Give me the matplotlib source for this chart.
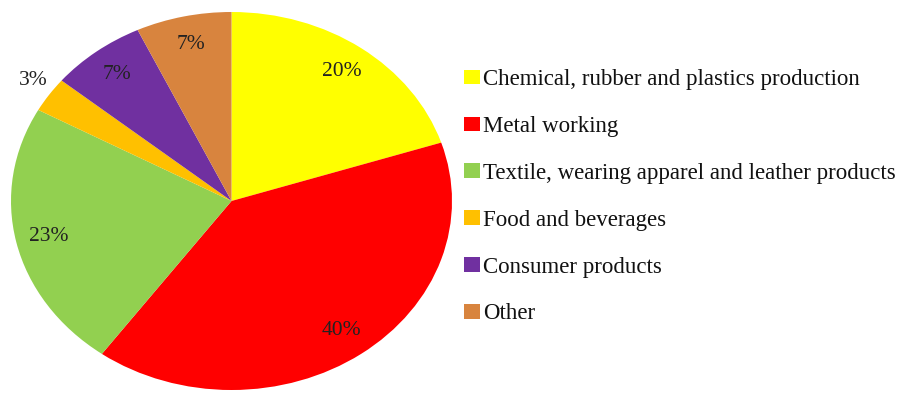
"""Pie chart: distribution by industry sector (recreated)."""

import matplotlib

matplotlib.use("Agg")
import matplotlib.pyplot as plt
from matplotlib.patches import Patch

sectors = [
    "Chemical, rubber and plastics production",
    "Metal working",
    "Textile, wearing apparel and leather products",
    "Food and beverages",
    "Consumer products",
    "Other",
]
shares = [20, 40, 23, 3, 7, 7]
colors = ["#FFFF00", "#FF0000", "#92D050", "#FFC000", "#7030A0", "#D8843E"]

plt.rcParams["font.family"] = ["Liberation Serif", "DejaVu Serif"]

W, H = 924, 394
fig = plt.figure(figsize=(W / 100, H / 100), dpi=100)
# pie is stretched to an ellipse, as in the original
ax = fig.add_axes([11 / W, 4 / H, 441 / W, 378 / H])

wedges, texts, autotexts = ax.pie(
    shares, colors=colors, startangle=90, counterclock=False,
    autopct="%d%%", pctdistance=0.85, radius=1.0,
    textprops={"fontsize": 15.5, "color": "#222222"},
)
# small slice label sits outside the pie
small = shares.index(3)
x, y = autotexts[small].get_position()
autotexts[small].set_position((x * 1.28, y * 1.33))

ax.set_aspect("auto")
ax.set_xlim(-1, 1)
ax.set_ylim(-1, 1)
ax.axis("off")

handles = [Patch(facecolor=c, edgecolor="none") for c in colors]
fig.legend(
    handles, sectors, loc="upper left", bbox_to_anchor=(464 / W, 1 - 69 / H),
    frameon=False, fontsize=16.5, handlelength=0.7, handleheight=0.6,
    handletextpad=0.15, labelspacing=1.13, borderaxespad=0, borderpad=0,
    labelcolor="#111111",
)

fig.savefig("out.png", dpi=100)
